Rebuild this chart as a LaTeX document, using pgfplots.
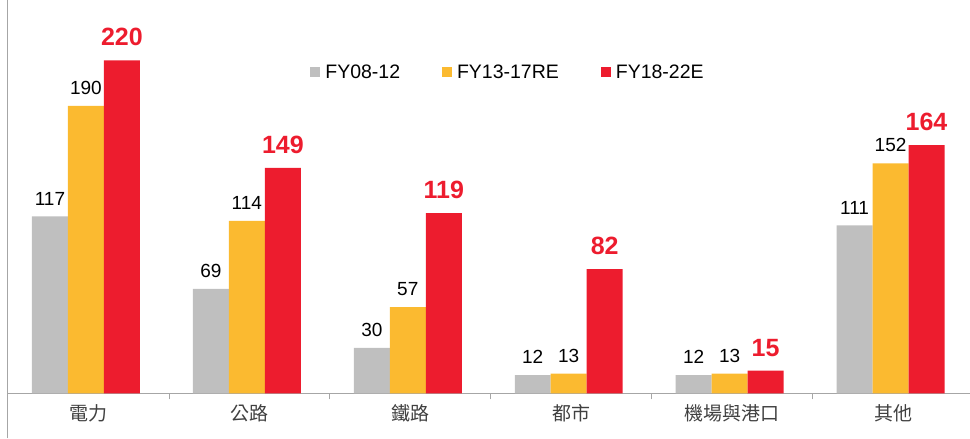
\documentclass[border=0pt]{standalone}
\usepackage{pgfplots}
\pgfplotsset{compat=1.18}
\usepackage{fontspec}
\setmainfont{Liberation Sans}
\newfontfamily\cjk{Noto Sans CJK TC}
\definecolor{cgray}{HTML}{BFBFBF}
\definecolor{corange}{HTML}{FBBA30}
\definecolor{cred}{HTML}{ED1C2E}
\definecolor{axgray}{HTML}{A6A6A6}
\begin{document}
\begin{tikzpicture}[x=1pt,y=1pt]
\path (0,0) rectangle (970,438);
\begin{axis}[at={(8pt,45pt)}, anchor=south west, scale only axis, width=962pt, height=393pt,
 xmin=-0.5, xmax=5.475, ymin=0, ymax=259.6,
 ybar=0pt, bar width=36pt,
 axis x line=bottom, axis y line=left,
 axis line style={-, axgray, line width=1pt},
 y axis line style={shorten <=-45pt},
 ytick=\empty,
 xtick={0,...,5}, xticklabels={電力,公路,鐵路,都市,機場與港口,其他},
 major tick length=0pt,
 minor xtick={0.5,1.5,2.5,3.5,4.5}, minor tick length=6pt, tick align=outside,
 minor x tick style={axgray, line width=0.8pt},
 xticklabel style={font=\cjk\fontsize{19}{19}\selectfont, text=black!75, yshift=-8pt},
 /pgf/number format/assume math mode=true,
 legend columns=3,
 legend style={draw=none, fill=none, at={(0.52,0.817)}, anchor=center,
   font=\fontsize{19.5}{20}\selectfont,
   /tikz/every odd column/.append style={column sep=3pt},
   /tikz/every even column/.append style={column sep=40pt}},
 legend image code/.code={\fill[#1] (0pt,-5pt) rectangle (10pt,5pt);},
 clip=false,
]
\addplot[fill=cgray, draw=none, bar shift=-38.5pt, nodes near coords,
  every node near coord/.append style={font=\fontsize{19}{19}\selectfont, text=black, anchor=south, inner sep=0pt, yshift=11pt}]
  coordinates {(0,117) (1,69) (2,30) (3,12) (4,12) (5,111)};
\addlegendentry{FY08-12}
\addplot[fill=corange, draw=none, bar shift=-2.5pt, nodes near coords,
  every node near coord/.append style={font=\fontsize{19}{19}\selectfont, text=black, anchor=south, inner sep=0pt, yshift=11pt}]
  coordinates {(0,190) (1,114) (2,57) (3,13) (4,13) (5,152)};
\addlegendentry{FY13-17RE}
\addplot[fill=cred, draw=none, bar shift=33.5pt, nodes near coords,
  every node near coord/.append style={font=\bfseries\fontsize{25}{25}\selectfont, text=cred, anchor=south, inner sep=0pt, yshift=14pt}]
  coordinates {(0,220) (1,149) (2,119) (3,82) (4,15) (5,164)};
\addlegendentry{FY18-22E}
\end{axis}
\end{tikzpicture}
\end{document}
